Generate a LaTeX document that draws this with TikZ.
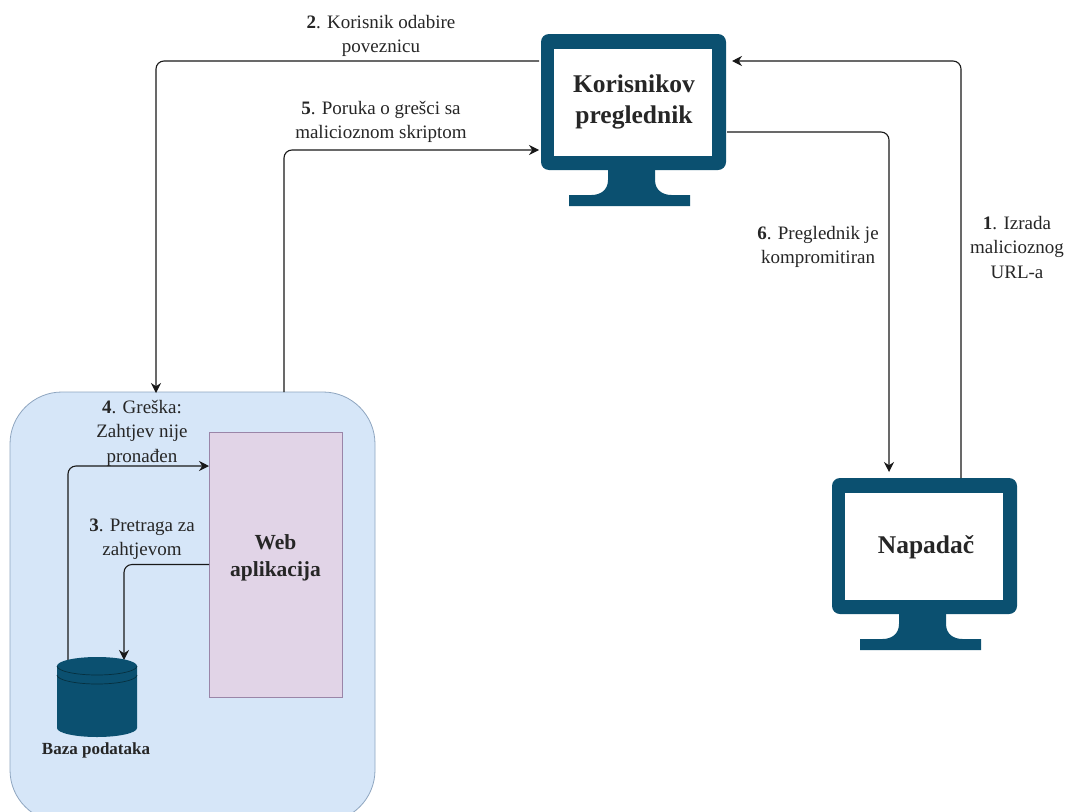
\documentclass[tikz,border=0pt]{standalone}
\usepackage{fontspec}
\setmainfont{Liberation Serif}
\usetikzlibrary{arrows.meta}
\definecolor{moncol}{HTML}{0B5070}
\definecolor{dbline}{HTML}{06303F}
\definecolor{bluefill}{HTML}{D6E6F8}
\definecolor{bluedraw}{HTML}{8FA6C0}
\definecolor{webfill}{HTML}{E1D4E7}
\definecolor{webdraw}{HTML}{9A85A8}
\tikzset{
    every node/.style={inner sep=0mm, outer sep=0mm}
}
\tikzset{monbody/.style={rectangle, rounded corners=8pt, fill=moncol, minimum width=185pt, minimum height=136pt}}
\tikzset{monscreen/.style={rectangle, fill=white, minimum width=158pt, minimum height=107pt}}
\tikzset{title/.style={align=center, text=black!85, font=\fontsize{25.5}{31}\selectfont\bfseries}}
\tikzset{note/.style={align=center, text=black!85, font=\fontsize{19}{24.5}\selectfont}}
\tikzset{conn/.style={draw=black!90, line width=1.1pt, rounded corners=8pt, -{Stealth[length=10pt,width=10pt]}}}
\newcommand{\monstand}[1]{
  \fill[moncol, shift={(#1.south)}] (-25.5,-1) -- (-25.5,10) .. controls (-25.5,20) and (-33,25) .. (-42,25)
    -- (-64.5,25) -- (-64.5,36) -- (56.5,36) -- (56.5,25) -- (38,25)
    .. controls (29,25) and (21.5,20) .. (21.5,10) -- (21.5,-1) -- cycle;
}

\begin{document}
\begin{tikzpicture}[x=1pt, y=-1pt]
  \clip (0,0) rectangle (1070,811);
  \fill[white] (0,0) rectangle (1070,811);

  \node (blue) [rectangle, draw=bluedraw, fill=bluefill, line width=0.8pt, rounded corners=52pt, minimum width=365pt, minimum height=430pt] at (192.5,607) {};
  \node (web) [rectangle, draw=webdraw, fill=webfill, line width=0.8pt, minimum width=133pt, minimum height=265pt] at (275.5,564.5) {};
  \node (weblbl) [title, font=\fontsize{21.5}{27}\selectfont\bfseries] at (275.5,558) {Web\\aplikacija};

  \node (kor) [monbody] at (633.5,102) {};
  \node (korscr) [monscreen] at (633,102.5) {};
  \node (korlbl) [title] at (634,102) {Korisnikov\\preglednik};
  \monstand{kor}

  \node (nap) [monbody] at (924.5,546) {};
  \node (napscr) [monscreen] at (924,546.5) {};
  \node (naplbl) [title] at (926,547) {Napadač};
  \monstand{nap}

  \node (db) [minimum width=80pt, minimum height=80pt] at (97,697) {};
  \node (dblbl) [text=black!85, font=\fontsize{17}{20}\selectfont\bfseries] at (96,750) {Baza podataka};

  \draw[conn] ([yshift=41pt, xshift=-2pt]kor.west) -| ([xshift=-36.5pt, yshift=-1pt]blue.north);
  \draw[conn] ([xshift=91.5pt]blue.north) |- ([yshift=-48pt, xshift=-2pt]kor.west);
  \draw[conn] ([xshift=36.5pt]nap.north) |- ([yshift=41pt, xshift=6pt]kor.east);
  \draw[conn] ([yshift=-30pt, xshift=1pt]kor.east) -| ([xshift=-35.5pt, yshift=6pt]nap.north);
  \draw[conn] ([xshift=-29pt, yshift=-3pt]db.north) |- ([yshift=98.5pt]web.west);
  \draw[conn] (web.west) -| ([xshift=27pt, yshift=-3pt]db.north);

  \fill[moncol] (57,666) arc[start angle=180, end angle=0, x radius=40, y radius=-9] -- (137,728)
    arc[start angle=0, end angle=-180, x radius=40, y radius=-9] -- cycle;
  \draw[dbline, line width=0.7pt] (57,666) arc[start angle=180, end angle=360, x radius=40, y radius=-9];
  \draw[dbline, line width=0.7pt] (57,675) arc[start angle=180, end angle=360, x radius=40, y radius=-9];

  \node (n2) [note] at (381,36) {\textbf{2}. Korisnik odabire\\poveznicu};
  \node (n5) [note] at (381,122) {\textbf{5}. Poruka o grešci sa\\malicioznom skriptom};
  \node (n6) [note] at (818,247) {\textbf{6}. Preglednik je\\kompromitiran};
  \node (n1) [note] at (1017,247) {\textbf{1}. Izrada\\malicioznog\\URL-a};
  \node (n4) [note] at (142,433) {\textbf{4}. Greška:\\Zahtjev nije\\pronađen};
  \node (n3) [note] at (142,539) {\textbf{3}. Pretraga za\\zahtjevom};
\end{tikzpicture}
\end{document}
